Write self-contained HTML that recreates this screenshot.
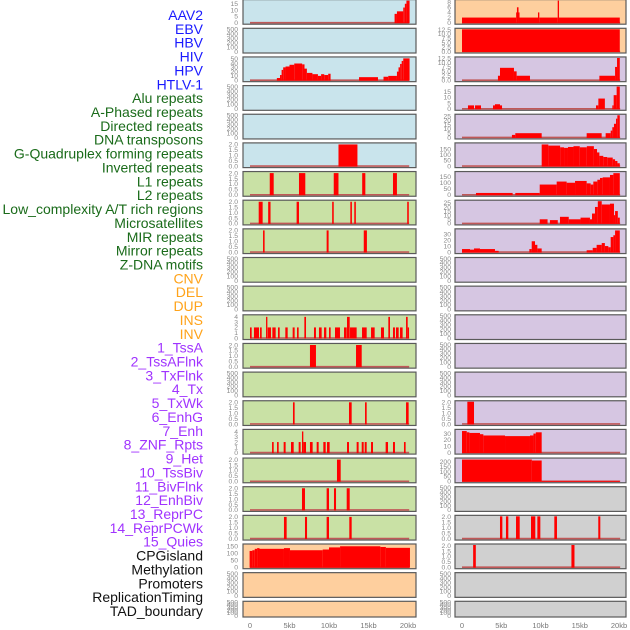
<!DOCTYPE html>
<html><head><meta charset="utf-8"><style>
html,body{margin:0;padding:0;background:#fff;width:630px;height:630px;overflow:hidden}
svg{display:block}
</style></head><body>
<svg id="chart" width="630" height="630" xmlns="http://www.w3.org/2000/svg"></svg>
<script>
// ---- data ----
const trackLabels = ["AAV2","EBV","HBV","HIV","HPV","HTLV-1","Alu repeats","A-Phased repeats","Directed repeats","DNA transposons","G-Quadruplex forming repeats","Inverted repeats","L1 repeats","L2 repeats","Low_complexity A/T rich regions","Microsatellites","MIR repeats","Mirror repeats","Z-DNA motifs","CNV","DEL","DUP","INS","INV","1_TssA","2_TssAFlnk","3_TxFlnk","4_Tx","5_TxWk","6_EnhG","7_Enh","8_ZNF_Rpts","9_Het","10_TssBiv","11_BivFlnk","12_EnhBiv","13_ReprPC","14_ReprPCWk","15_Quies","CPGisland","Methylation","Promoters","ReplicationTiming","TAD_boundary"];
const labelGroups = [6,13,5,15,5];
const labelColors = ["#1a1aff","#1a6b1a","#ffa31a","#a033ff","#111111"];
const xTickLabels = ["0","5kb","10kb","15kb","20kb"];
const xTickValues = [0,5,10,15,20];

const leftBg = ["b","b","b","b","b","b","g","g","g","g","g","g","g","g","g","g","g","g","g","p","p","p"];
const rightBg = ["p","p","l","l","l","l","l","l","l","l","l","l","l","l","l","l","l","y","y","y","y","y"];
const leftYMax = [17.5,500,52,500,500,2.05,2.05,2.05,2.05,500,500,4.2,2.05,500,2.05,4.2,2.05,2.05,2.05,157,500,500];
const rightYMax = [8.6,12.6,12.6,19.5,26,195,185,27,37,500,500,500,500,500,2.05,35,230,500,2.05,2.05,500,500];
const leftTicks = [[0,5,10,15],"E",[0,10,20,30,40,50],"E","E","H","H","H","H","E","E",[0,1,2,3,4],"H","E","H",[0,1,2,3,4],"H","H","H",[0,50,100,150],"E","E"];
const rightTicks = [[0,2,4,6,8],"Q","Q",[0,5,10,15],[0,5,10,15,20,25],[0,50,100,150],[0,50,100,150],[0,5,10,15,20,25],[0,10,20,30],"E","E","E","E","E","H",[0,10,20,30],[0,50,100,150,200],"E","H","H","E","E"];

const leftSegs = [
 [[18.3,18.6,7],[18.6,19.4,9],[19.4,19.6,12],[19.6,19.8,15],[19.8,20.2,17.5]],
 [],
 [[3.4,3.8,5],[3.8,4.0,12],[4.0,4.2,24],[4.2,4.5,30],[4.5,5.0,32],[5.0,5.6,36],[5.6,6.6,39],[6.6,6.9,37],[6.9,7.2,27],[7.2,7.9,17],[7.9,8.6,14],[8.6,9.0,10],[9.0,9.4,14],[9.4,9.9,12],[9.9,10.2,15],[13.8,16.2,7],[16.9,17.5,8],[17.5,18.6,10],[18.6,18.8,20],[18.8,19.0,30],[19.0,19.2,38],[19.2,19.4,45],[19.4,20.2,51]],
 [],[],
 [[11.2,13.6,2]],
 [[2.5,3.0,2],[6.2,7.0,2],[10.6,11.2,2],[14.2,14.6,2],[18.1,18.6,2]],
 [[1.1,1.6,2],[2.3,2.6,2],[5.9,6.2,2],[10.4,10.6,2],[12.7,12.9,2],[13.2,13.4,2],[19.9,20.1,2]],
 [[1.65,1.85,2],[9.7,9.95,2],[14.4,14.8,2]],
 [],[],
 [[0,0.21,2],[0.5,1.14,2],[1.27,1.48,2],[2.03,2.2,4],[2.24,2.66,2],[2.83,3.25,2],[3.54,3.76,2],[4.47,4.77,2],[5.4,5.65,2],[5.95,6.16,2],[6.88,7.09,4],[8.1,8.35,2],[8.73,9.07,2],[9.37,9.66,2],[10.0,10.21,2],[10.76,11.39,2],[11.9,12.24,2],[12.28,12.62,4],[12.66,13.5,2],[14.18,14.77,2],[15.32,15.78,2],[16.58,16.96,2],[17.51,17.72,4],[18.1,18.35,2],[18.48,18.82,2],[18.99,19.32,2],[19.75,19.96,4],[19.96,20.13,2]],
 [[7.59,8.35,2],[13.42,14.14,2]],
 [],
 [[5.44,5.65,2],[12.53,12.87,2],[14.56,14.77,2],[19.75,20.08,2]],
 [[2.79,3.0,2],[3.42,3.63,2],[4.26,4.51,2],[5.19,5.53,2],[6.16,6.41,2],[6.58,6.75,4],[6.75,7.09,2],[7.59,7.93,2],[8.44,8.69,2],[9.28,9.58,2],[9.75,10.08,2],[12.28,12.53,2],[13.5,13.75,2],[14.14,14.39,2],[14.52,14.77,2],[15.32,15.57,2],[17.17,17.47,2],[18.1,18.35,2],[19.49,19.7,2]],
 [[11.01,11.48,2]],
 [[6.58,6.96,2],[9.7,10.0,2],[10.63,10.89,2],[12.24,12.62,2]],
 [[4.3,4.64,2],[6.96,7.22,2],[9.7,10.0,2],[12.57,12.87,2]],
 [[-0.05,0.3,115],[0.3,0.6,120],[0.6,0.9,130],[0.9,1.2,135],[1.2,4.3,130],[4.3,5.06,135],[5.06,9.2,120],[9.2,10.0,125],[10.0,11.4,140],[11.4,16.5,148],[16.5,17.2,143],[17.2,20.25,137]],
 [],[]
];
const rightSegs = [
 [[0,6.9,2],[6.9,7.0,4],[7.0,7.2,6],[7.2,7.3,4],[7.3,9.68,2],[9.68,9.85,4],[9.85,12.19,2],[12.19,12.36,8.6],[12.36,20.1,2]],
 [[0,20.1,12.6]],
 [[4.58,4.84,2.5],[4.84,6.62,7],[6.62,6.96,5],[6.96,8.66,2.5],[17.5,19.5,2.5],[19.5,19.75,7.5],[19.75,20.1,12.6]],
 [[0.76,1.53,3],[1.66,2.42,3],[3.95,4.2,3],[4.2,4.84,4],[4.84,5.1,3],[17.07,17.37,3],[17.37,18.2,9],[19.15,19.32,3],[19.32,19.7,12],[19.7,20.1,19.5]],
 [[6.36,6.79,3],[6.79,10.15,5],[15.88,17.79,5],[18.3,18.94,5],[18.94,19.15,8],[19.15,19.36,12],[19.36,19.62,16],[19.62,19.79,22],[19.79,20.1,26]],
 [[10.15,11.0,190],[11.0,12.5,180],[12.5,13.0,165],[13.0,13.5,160],[13.5,14.2,168],[14.2,15.0,175],[15.0,15.9,165],[15.9,16.8,175],[16.8,17.2,150],[17.2,17.5,120],[17.5,18.0,90],[18.0,18.5,80],[18.5,19.2,75],[19.2,19.5,60],[19.5,19.8,45],[19.8,20.1,25]],
 [[1.78,6.45,15],[6.79,9.9,15],[9.9,12.06,85],[12.06,13.33,110],[13.33,14.4,100],[14.4,15.88,115],[15.88,16.39,95],[16.39,16.73,85],[16.73,17.24,110],[17.24,17.58,125],[17.58,17.92,140],[17.92,18.85,145],[18.85,19.28,165],[19.28,20.1,180]],
 [[9.9,10.9,5],[11.2,12.2,4],[12.48,13.6,8],[13.6,15.1,5],[15.1,16.3,7],[16.3,16.56,5],[16.56,16.94,12],[16.94,17.3,20],[17.3,17.8,27],[17.8,18.85,23],[18.85,19.36,24],[19.36,19.5,10],[19.5,19.85,15],[19.85,20.1,7]],
 [[0,1.02,5],[1.02,1.53,4],[1.53,2.29,6],[2.29,4.2,5],[4.2,4.67,2],[8.58,8.88,5],[8.88,9.3,18],[9.3,9.6,12],[9.6,10.15,6],[15.88,16.65,3],[16.65,17.15,7],[17.15,17.8,12],[17.8,18.2,15],[18.2,18.64,10],[18.64,18.94,8],[18.94,19.28,25],[19.28,19.5,28],[19.5,20.1,36]],
 [],[],[],[],[],
 [[0.68,1.53,2.05]],
 [[0,0.6,34],[0.6,0.94,32],[0.94,2.29,31],[2.29,2.72,29],[2.72,5.48,27],[5.48,8.66,26],[8.66,9.1,27],[9.1,9.4,30],[9.4,10.15,32]],
 [[0,8.9,225],[8.9,10.15,215],[10.15,20.1,4]],
 [],
 [[4.84,5.14,2.05],[5.6,5.9,2.05],[6.88,7.35,2.05],[8.79,9.34,2.05],[9.6,9.98,2.05],[11.76,12.1,2.05],[17.36,17.62,2.05]],
 [[1.42,1.76,2.05],[13.94,14.33,2.05]],
 [],[]
];

// ---- drawing ----
const NS = "http://www.w3.org/2000/svg";
const svg = document.getElementById("chart");
const bgColors = {b:"#c9e4ec",g:"#c9e1a5",p:"#fecf9e",l:"#d6c6e2",y:"#d0d0d0"};
const cols = [
  {x0:243,x1:416,zx:250,kbpx:7.9,tickR:238,bg:leftBg,ymax:leftYMax,ticks:leftTicks,segs:leftSegs,name:"left"},
  {x0:455,x1:626,zx:462,kbpx:7.85,tickR:451,bg:rightBg,ymax:rightYMax,ticks:rightTicks,segs:rightSegs,name:"right"}
];
function mk(tag, attrs){const e=document.createElementNS(NS,tag);for(const k in attrs)e.setAttribute(k,attrs[k]);return e;}
function rowTop(i){return i===0?-0.4:28.3+(i-1)*28.65;}
function rowH(i){return i===0?24.6:(i===21?15.7:24.7);}

cols.forEach((c)=>{
  const xs = kb => c.zx + kb*c.kbpx;
  for(let i=0;i<22;i++){
    const top=rowTop(i), h=rowH(i), bottom=top+h;
    const ys = v => (bottom-1.5) - v/c.ymax[i]*(h-2.5);
    const g = mk("g",{});
    
    
    svg.appendChild(g);
    const r = mk("rect",{x:c.x0,y:top,width:c.x1-c.x0,height:h,fill:bgColors[c.bg[i]],stroke:"#5a5a5a","stroke-width":1.2});
    
    
    g.appendChild(r);
    const segs=c.segs[i];
    if(segs.length){
      const bl = mk("line",{x1:xs(0),x2:xs(20.15),y1:ys(0),y2:ys(0),stroke:"#c05858","stroke-width":1.6});
      
      
      g.appendChild(bl);
      segs.forEach(s=>{
        const y=ys(s[2]);
        const b = mk("rect",{x:xs(s[0]),y:Math.max(y,top+0.6),width:Math.max(xs(s[1])-xs(s[0]),1),height:ys(0)-Math.max(y,top+0.6)+0.5,fill:"#ff0000"});
        
        
        g.appendChild(b);
      });
    }
    let t=c.ticks[i], fmt=v=>String(v);
    if(t==="E"){t=[0,100,200,300,400,500];}
    else if(t==="H"){t=[0,0.5,1,1.5,2];fmt=v=>v.toFixed(1);}
    else if(t==="Q"){t=[0,2.5,5,7.5,10,12.5];fmt=v=>v.toFixed(1);}
    t.forEach(v=>{
      let y=ys(v); if(i===21) y=bottom-1.5-(v/500)*(h-2.5);
      const tx=mk("text",{x:c.tickR,y:y+2.3,"text-anchor":"end","font-size":6.8,fill:"#8a8a8a","font-family":"Liberation Sans, sans-serif"});
      tx.textContent=fmt(v);
      
      
      g.appendChild(tx);
    });
  }
  xTickValues.forEach((v,k)=>{
    const tx=mk("text",{x:xs(v),y:628,"text-anchor":"middle","font-size":7.5,fill:"#777","font-family":"Liberation Sans, sans-serif"});
    tx.textContent=xTickLabels[k];
    
    
    svg.appendChild(tx);
  });
});

// labels
let gi=0, cnt=0;
const labelStep = 596/(trackLabels.length-1);
trackLabels.forEach((lab,i)=>{
  if(cnt>=labelGroups[gi]){gi++;cnt=0;}
  cnt++;
  const tx=mk("text",{x:203,y:15+i*labelStep+5,"text-anchor":"end","font-size":14,fill:labelColors[gi],"font-family":"Liberation Sans, sans-serif"});
  tx.textContent=lab;
  
  
  svg.appendChild(tx);
});
</script>
</body></html>
